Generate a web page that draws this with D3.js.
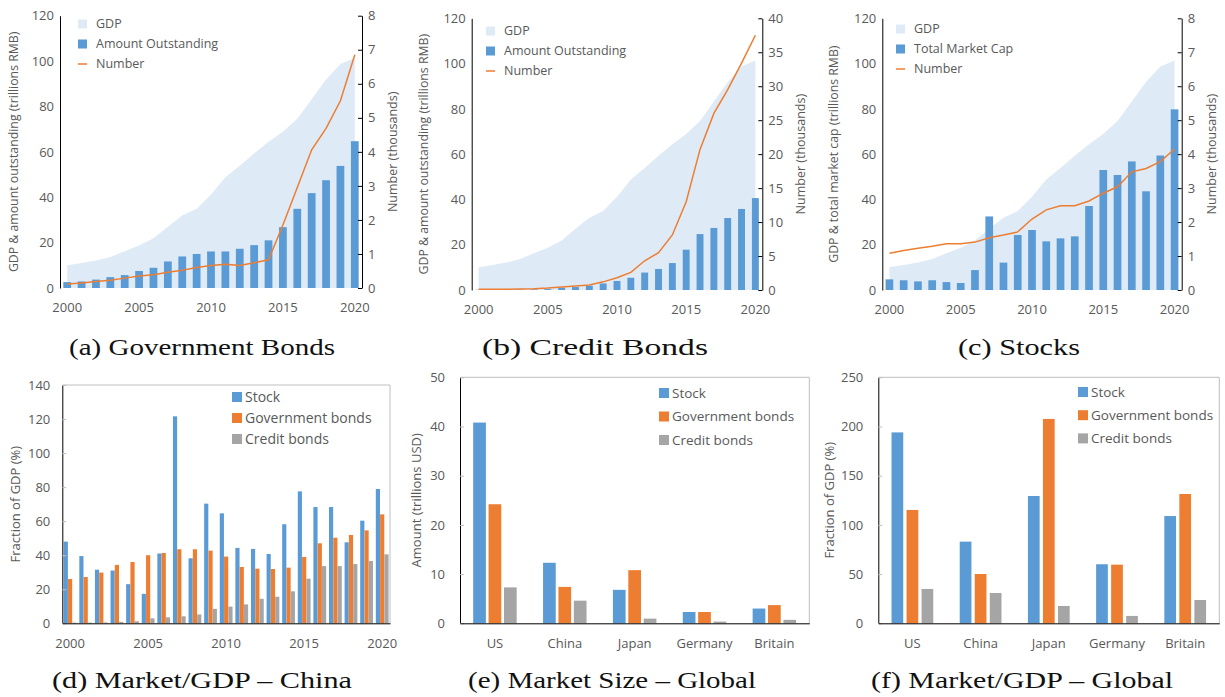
<!DOCTYPE html>
<html><head><meta charset="utf-8">
<script src="https://cdn.jsdelivr.net/npm/d3@7"></script>
<style>body{margin:0;background:#fff} svg{display:block}</style>
</head><body><svg id="c" width="1225" height="697"></svg>
<script>
// ---------- DATA ----------
const years = [2000,2001,2002,2003,2004,2005,2006,2007,2008,2009,2010,2011,2012,2013,2014,2015,2016,2017,2018,2019,2020];
const yearTicks = [2000,2005,2010,2015,2020];
const gdp = [10.0,11.0,12.1,13.7,16.2,18.7,21.9,27.0,31.9,34.9,41.2,48.8,53.9,59.3,64.4,68.9,74.6,83.2,91.9,98.7,101.4];
const govAmount = [2.6,2.9,3.7,4.8,5.7,7.5,8.9,11.7,13.9,15.0,16.1,16.1,17.3,18.9,21.0,26.8,34.9,41.8,47.5,53.8,64.7];
const govNumber = [0.12,0.15,0.19,0.23,0.29,0.35,0.39,0.46,0.52,0.60,0.66,0.70,0.66,0.74,0.83,1.85,2.95,4.06,4.69,5.5,6.85];
const creditAmount = [0.1,0.1,0.2,0.2,0.3,0.4,1.0,1.3,1.9,2.9,4.0,5.4,7.7,9.3,11.9,17.8,24.7,27.4,31.8,35.8,40.6];
const creditNumber = [0.1,0.1,0.1,0.15,0.2,0.3,0.45,0.6,0.75,1.2,1.8,2.6,4.3,5.5,8.1,13.0,20.7,26.0,29.5,33.4,37.5];
const stockCap = [4.7,4.3,3.8,4.3,3.5,3.1,8.8,32.5,12.1,24.3,26.5,21.5,22.8,23.7,37.1,53.0,50.8,56.8,43.6,59.4,79.8];
const stockNumber = [1.08,1.16,1.23,1.29,1.36,1.36,1.41,1.54,1.62,1.71,2.09,2.36,2.48,2.48,2.62,2.85,3.04,3.48,3.58,3.78,4.15];

const shareStock = [48,39.5,31.5,31,23,17.3,41,121.6,38.2,70.3,64.6,44.3,43.7,40.7,58.2,77.5,68.3,68.3,47.6,60.3,78.9];
const shareGov = [26,27.2,29.8,34.3,36,40,41.3,43.5,43.5,42.7,39.2,33.1,32.1,31.9,32.7,39,47,50.3,51.9,54.6,64.0];
const shareCredit = [0.4,0.4,0.5,0.8,1.2,2.9,3.5,4.1,5.2,8.5,9.8,11.1,14.4,15.6,18.8,26.2,33.6,33.6,34.8,36.6,40.5];

const countries = ["US","China","Japan","Germany","Britain"];
const sizeStock = [40.8,12.3,6.8,2.3,3.0];
const sizeGov = [24.2,7.4,10.8,2.3,3.7];
const sizeCredit = [7.3,4.6,0.95,0.35,0.7];
const gdpStock = [194,83,129.4,60,109];
const gdpGov = [115.2,50.1,207.7,59.6,131.4];
const gdpCredit = [34.9,30.8,17.6,7.5,23.7];

const seriesNames = ["Stock","Government bonds","Credit bonds"];
const leftTicksTop = [0,20,40,60,80,100,120];
const rightTicksA = [0,1,2,3,4,5,6,7,8];
const rightTicksB = [0,5,10,15,20,25,30,35,40];
const rightTicksC = [0,1,2,3,4,5,6,7,8];
const ticksD = [0,20,40,60,80,100,120,140];
const ticksE = [0,10,20,30,40,50];
const ticksF = [0,50,100,150,200,250];

// ---------- STYLE ----------
const FONT = "'Open Sans', sans-serif";
const SERIF = "'Liberation Serif', serif";
const TXT = "#595959";
const BLUE = "#5B9BD5", ORANGE = "#ED7D31", GRAY = "#A5A5A5", GDPC = "#DEEBF7";
const svg = d3.select("#c");

function styleAxis(sel, fs, tickColor) {
  sel.attr("font-family", FONT).attr("font-size", fs);
  sel.selectAll("text").attr("fill", TXT);
  sel.select(".domain").attr("stroke", "#000");
  sel.selectAll(".tick line").attr("stroke", tickColor || "#000");
}

function caption(text, x0, x1, y) {
  svg.append("text").attr("x", x0).attr("y", y).attr("font-family", SERIF)
    .attr("font-size", 23).attr("fill", "#111")
    .attr("textLength", x1 - x0).attr("lengthAdjust", "spacingAndGlyphs").text(text);
}

function combo(c) {
  const g = svg.append("g");
  const x = d3.scaleBand().domain(years).range([c.left, c.right]).paddingInner(c.pad).paddingOuter(c.pad / 2);
  const cx = d => x(d) + x.bandwidth() / 2;
  const yL = d3.scaleLinear().domain([0, 120]).range([c.bottom, c.top]);
  const yR = d3.scaleLinear().domain([0, c.rMax]).range([c.bottom, c.top]);
  const gd = years.map((yr, i) => ({yr, v: gdp[i]}));
  g.append("path").datum(gd).attr("fill", GDPC)
    .attr("d", d3.area().x(d => cx(d.yr)).y0(yL(0)).y1(d => yL(d.v)));
  g.selectAll("rect.bar").data(years.map((yr, i) => ({yr, v: c.amount[i]}))).join("rect")
    .attr("class", "bar").attr("x", d => x(d.yr)).attr("width", x.bandwidth())
    .attr("y", d => yL(d.v)).attr("height", d => yL(0) - yL(d.v)).attr("fill", BLUE);
  g.append("path").datum(years.map((yr, i) => ({yr, v: c.number[i]})))
    .attr("fill", "none").attr("stroke", ORANGE).attr("stroke-width", 1.5)
    .attr("d", d3.line().x(d => cx(d.yr)).y(d => yR(d.v)));
  // axes
  g.append("g").attr("transform", `translate(${c.left},0)`)
    .call(d3.axisLeft(yL).tickValues(leftTicksTop).tickSize(0).tickSizeOuter(0).tickPadding(6))
    .call(s => styleAxis(s, 13));
  g.append("g").attr("transform", `translate(${c.right},0)`)
    .call(d3.axisRight(yR).tickValues(c.rTicks).tickSize(-4).tickSizeOuter(0).tickPadding(6))
    .call(s => styleAxis(s, 13));
  g.append("g").attr("transform", `translate(0,${c.bottom})`)
    .call(d3.axisBottom(x).tickValues(yearTicks).tickSize(0).tickPadding(15))
    .call(s => { styleAxis(s, 13); s.select(".domain").remove(); });
  // titles
  g.append("text").attr("transform", `translate(${c.ltx},${(c.top + c.bottom) / 2}) rotate(-90)`)
    .attr("text-anchor", "middle").attr("font-family", FONT).attr("font-size", 12.3).attr("fill", TXT).text(c.lTitle);
  g.append("text").attr("transform", `translate(${c.rtx},${(c.top + c.bottom) / 2}) rotate(-90)`)
    .attr("text-anchor", "middle").attr("font-family", FONT).attr("font-size", 12.5).attr("fill", TXT).text("Number (thousands)");
  // legend
  const items = [["GDP", "area"], [c.barName, "bar"], ["Number", "line"]];
  items.forEach((it, i) => {
    const yy = c.ly + i * 20;
    if (it[1] === "line") g.append("line").attr("x1", c.lx).attr("x2", c.lx + 9).attr("y1", yy).attr("y2", yy).attr("stroke", ORANGE).attr("stroke-width", 1.5);
    else g.append("rect").attr("x", c.lx).attr("y", yy - 4.5).attr("width", 9).attr("height", 9).attr("fill", it[1] === "area" ? GDPC : BLUE);
    g.append("text").attr("x", c.lx + 18).attr("y", yy).attr("dy", "0.35em").attr("font-family", FONT)
      .attr("font-size", 12.5).attr("fill", TXT).text(it[0]);
  });
}

function grouped(c) {
  const g = svg.append("g");
  const x = d3.scaleBand().domain(c.cats).range([c.left, c.right]).padding(0);
  const xi = d3.scaleBand().domain([0, 1, 2]).range([0, x.bandwidth()]).paddingInner(c.pi).paddingOuter(c.po);
  const y = d3.scaleLinear().domain([0, c.max]).range([c.bottom, c.top]);
  const colors = [BLUE, ORANGE, GRAY];
  // frame
  g.append("path").attr("d", `M${c.left},${c.top}H${c.right}V${c.bottom}`).attr("fill", "none").attr("stroke", "#BFBFBF");
  c.series.forEach((arr, s) => {
    g.selectAll(null).data(c.cats.map((k, i) => ({k, v: arr[i]}))).join("rect")
      .attr("x", d => x(d.k) + xi(s)).attr("width", xi.bandwidth())
      .attr("y", d => y(d.v)).attr("height", d => y(0) - y(d.v)).attr("fill", colors[s]);
  });
  g.append("g").attr("transform", `translate(${c.left},0)`)
    .call(d3.axisLeft(y).tickValues(c.ticks).tickSize(-4).tickSizeOuter(0).tickPadding(c.tp))
    .call(s => styleAxis(s, 13, "#BFBFBF"));
  g.append("g").attr("transform", `translate(0,${c.bottom})`)
    .call(d3.axisBottom(x).tickValues(c.xTicks).tickSize(0).tickSizeOuter(0).tickPadding(15))
    .call(s => styleAxis(s, 13));
  g.append("text").attr("transform", `translate(${c.ltx},${(c.top + c.bottom) / 2}) rotate(-90)`)
    .attr("text-anchor", "middle").attr("font-family", FONT).attr("font-size", 13).attr("fill", TXT).text(c.lTitle);
  seriesNames.forEach((n, i) => {
    const yy = c.ly + i * c.lstep;
    g.append("rect").attr("x", c.lx).attr("y", yy - 5).attr("width", 10).attr("height", 10).attr("fill", colors[i]);
    g.append("text").attr("x", c.lx + 13).attr("y", yy).attr("dy", "0.35em").attr("font-family", FONT)
      .attr("font-size", c.lfs).attr("fill", TXT).text(n);
  });
}

// ---------- PANELS ----------
combo({left: 60, right: 362, top: 15.7, bottom: 288, pad: 0.46, amount: govAmount, number: govNumber,
  rMax: 8, rTicks: rightTicksA, lTitle: "GDP & amount outstanding (trillions RMB)", ltx: 18, rtx: 397,
  barName: "Amount Outstanding", lx: 78, ly: 24});
combo({left: 471.7, right: 762.3, top: 18.3, bottom: 290, pad: 0.5, amount: creditAmount, number: creditNumber,
  rMax: 40, rTicks: rightTicksB, lTitle: "GDP & amount outstanding (trillions RMB)", ltx: 428, rtx: 805,
  barName: "Amount Outstanding", lx: 486, ly: 31});
combo({left: 882.3, right: 1181.7, top: 18.3, bottom: 290, pad: 0.46, amount: stockCap, number: stockNumber,
  rMax: 8, rTicks: rightTicksC, lTitle: "GDP & total market cap (trillions RMB)", ltx: 838, rtx: 1216,
  barName: "Total Market Cap", lx: 896, ly: 29});

grouped({cats: years, xTicks: yearTicks, left: 62.3, right: 390, top: 385, bottom: 623.3, max: 140, ticks: ticksD,
  series: [shareStock, shareGov, shareCredit], pi: 0.03, po: 0.33, tp: 12, lTitle: "Fraction of GDP (%)", ltx: 20,
  lx: 232, ly: 397, lstep: 21, lfs: 14});
grouped({cats: countries, xTicks: countries, left: 460, right: 809.3, top: 377.3, bottom: 623.3, max: 50, ticks: ticksE,
  series: [sizeStock, sizeGov, sizeCredit], pi: 0.175, po: 0.857, tp: 15, lTitle: "Amount (trillions USD)", ltx: 421,
  lx: 659, ly: 393, lstep: 23.5, lfs: 13.5});
grouped({cats: countries, xTicks: countries, left: 878.3, right: 1219.3, top: 377.3, bottom: 623.3, max: 250, ticks: ticksF,
  series: [gdpStock, gdpGov, gdpCredit], pi: 0.22, po: 0.88, tp: 15, lTitle: "Fraction of GDP (%)", ltx: 834,
  lx: 1078, ly: 392, lstep: 23.2, lfs: 13.5});

caption("(a) Government Bonds", 69, 335, 355);
caption("(b) Credit Bonds", 482, 708, 355);
caption("(c) Stocks", 958, 1080, 355);
caption("(d) Market/GDP \u2013 China", 52, 352, 688);
caption("(e) Market Size \u2013 Global", 468, 756, 688);
caption("(f) Market/GDP \u2013 Global", 871, 1173, 688);
</script></body></html>
